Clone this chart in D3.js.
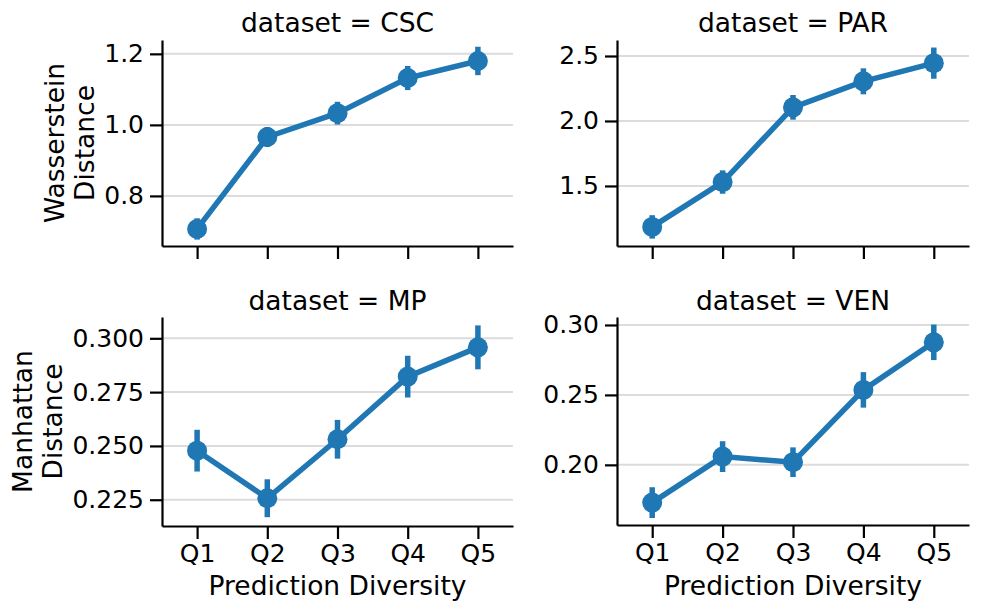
<!DOCTYPE html>
<html>
<head>
  <meta charset="UTF-8">
  <title>Prediction Diversity facets</title>
  <script src="https://d3js.org/d3.v7.min.js"></script>
  <style>
    body { margin: 0; background: #fff; }
    svg { display: block; font-family: 'DejaVu Sans', sans-serif; }
    .axis path, .axis line { stroke: #000; stroke-width: 2.2; }
    .axis text { font-family: 'DejaVu Sans', sans-serif; font-size: 25px; fill: #000; }
    .grid line { stroke: #dcdcdc; stroke-width: 2; }
  </style>
</head>
<body>
  <svg width="997" height="611"></svg>
  <script>
    // data
    const quintiles = ["Q1", "Q2", "Q3", "Q4", "Q5"];
    const datasets = ["CSC", "PAR", "MP", "VEN"];

    const cscMean = [0.707, 0.966, 1.033, 1.132, 1.180];
    const cscErr = [0.030, 0.028, 0.032, 0.034, 0.040];
    const parMean = [1.185, 1.530, 2.105, 2.305, 2.445];
    const parErr = [0.090, 0.090, 0.095, 0.100, 0.120];
    const mpMean = [0.2478, 0.2257, 0.2531, 0.2822, 0.2958];
    const mpErr = [0.0097, 0.0088, 0.0090, 0.0097, 0.0102];
    const venMean = [0.1730, 0.2059, 0.2019, 0.2536, 0.2876];
    const venErr = [0.0110, 0.0110, 0.0106, 0.0127, 0.0127];

    const yDomains = [[0.659, 1.239], [1.038, 2.623], [0.2128, 0.3099], [0.157, 0.3057]];
    const yTicks = [[0.8, 1.0, 1.2], [1.5, 2.0, 2.5], [0.225, 0.25, 0.275, 0.3], [0.2, 0.25, 0.3]];
    const yFormats = [".1f", ".1f", ".3f", ".2f"];
    const rowLabels = [["Wasserstein", "Distance"], ["Manhattan", "Distance"]];
    const xLabel = "Prediction Diversity";

    const means = [cscMean, parMean, mpMean, venMean];
    const errs = [cscErr, parErr, mpErr, venErr];

    const blue = "#1f77b4";
    const svg = d3.select("svg");

    // panel boxes (pixel frames of each facet)
    const panels = [
      { x0: 162, x1: 513, top: 40, bot: 246, row: 0, col: 0 },
      { x0: 617, x1: 969, top: 40, bot: 246, row: 0, col: 1 },
      { x0: 162, x1: 513, top: 317, bot: 526, row: 1, col: 0 },
      { x0: 617, x1: 969, top: 317, bot: 525, row: 1, col: 1 }
    ];

    panels.forEach((p, i) => {
      const x = d3.scalePoint().domain(quintiles).range([p.x0, p.x1]).padding(0.5);
      const y = d3.scaleLinear().domain(yDomains[i]).range([p.bot, p.top]);
      const g = svg.append("g");

      // grid
      g.append("g").attr("class", "grid")
        .selectAll("line").data(yTicks[i]).join("line")
        .attr("x1", p.x0).attr("x2", p.x1)
        .attr("y1", d => y(d)).attr("y2", d => y(d));

      const rows = quintiles.map((q, k) => ({ q, v: means[i][k], e: errs[i][k] }));

      // connecting line
      g.append("path").datum(rows)
        .attr("fill", "none").attr("stroke", blue).attr("stroke-width", 5.5)
        .attr("d", d3.line().x(d => x(d.q)).y(d => y(d.v)));

      // error bars
      g.selectAll(".err").data(rows).join("line")
        .attr("class", "err")
        .attr("x1", d => x(d.q)).attr("x2", d => x(d.q))
        .attr("y1", d => y(d.v - d.e)).attr("y2", d => y(d.v + d.e))
        .attr("stroke", blue).attr("stroke-width", 5.5);

      // markers
      g.selectAll(".dot").data(rows).join("circle")
        .attr("class", "dot")
        .attr("cx", d => x(d.q)).attr("cy", d => y(d.v)).attr("r", 10)
        .attr("fill", blue);

      // axes
      const yAxis = d3.axisLeft(y).tickValues(yTicks[i]).tickFormat(d3.format(yFormats[i]))
        .tickSize(12).tickSizeOuter(0).tickPadding(6);
      g.append("g").attr("class", "axis")
        .attr("transform", `translate(${p.x0},0)`)
        .call(yAxis);

      const xAxis = d3.axisBottom(x).tickSize(13).tickSizeOuter(0).tickPadding(5);
      if (p.row === 0) xAxis.tickFormat("");
      g.append("g").attr("class", "axis")
        .attr("transform", `translate(0,${p.bot})`)
        .call(xAxis);

      // title
      g.append("text")
        .attr("x", (p.x0 + p.x1) / 2).attr("y", p.row === 0 ? 32 : 310)
        .attr("text-anchor", "middle").attr("font-size", "26.5px")
        .text(`dataset = ${datasets[i]}`);

      if (p.row === 1) {
        g.append("text")
          .attr("x", (p.x0 + p.x1) / 2).attr("y", 595)
          .attr("text-anchor", "middle").attr("font-size", "26.5px")
          .text(xLabel);
      }

      // row label on the left column
      if (p.col === 0) {
        const lines = rowLabels[p.row];
        const base = p.row === 0 ? [64, 94] : [32, 62];
        const cy = (p.top + p.bot) / 2;
        lines.forEach((t, k) => {
          g.append("text")
            .attr("transform", `translate(${base[k]},${cy}) rotate(-90)`)
            .attr("text-anchor", "middle").attr("font-size", "26.5px")
            .text(t);
        });
      }
    });
  </script>
</body>
</html>
